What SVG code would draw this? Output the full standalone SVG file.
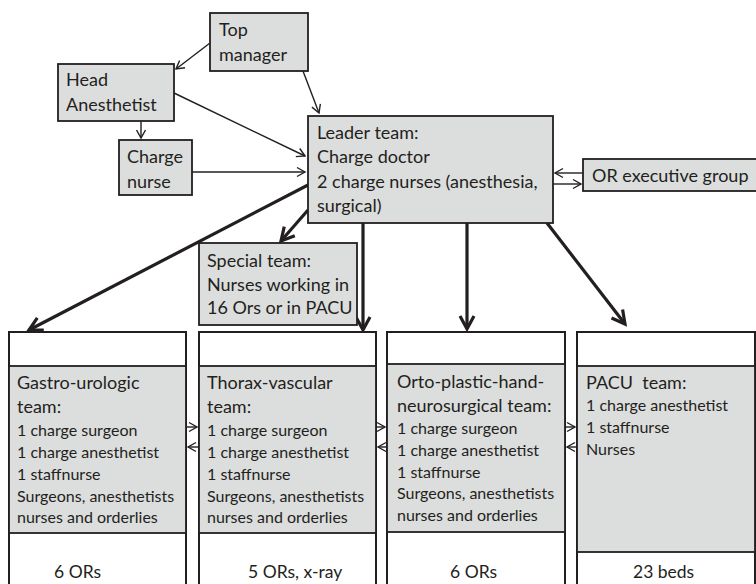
<svg xmlns="http://www.w3.org/2000/svg" width="756" height="584" viewBox="0 0 756 584">
  <style>
    .box { fill: #dcdddd; stroke: #231f20; stroke-width: 1.8; }
    .plain { fill: #ffffff; stroke: #231f20; stroke-width: 2; }
    .t { font-family: Lato, "Liberation Sans", sans-serif; font-size: 18px; fill: #231f20; }
    .s { font-family: Lato, "Liberation Sans", sans-serif; font-size: 16px; fill: #231f20; }
    .b { font-family: Lato, "Liberation Sans", sans-serif; font-size: 17.5px; fill: #231f20; }
    .thin { stroke: #231f20; stroke-width: 1.4; fill: none; marker-end: url(#open); }
    .thick { stroke: #231f20; stroke-width: 3.2; fill: none; marker-end: url(#openBig); }
  </style>
  <defs>
    <marker id="open" markerUnits="userSpaceOnUse" markerWidth="12" markerHeight="12" refX="10" refY="6" orient="auto">
      <path d="M2,1.5 L10,6 L2,10.5" fill="none" stroke="#231f20" stroke-width="1.4"/>
    </marker>
    <marker id="openBig" markerUnits="userSpaceOnUse" markerWidth="20" markerHeight="20" refX="16" refY="10" orient="auto">
      <path d="M3,3 L16,10 L3,17" fill="none" stroke="#231f20" stroke-width="3.2"/>
    </marker>
  </defs>

  <g id="connectors">
    <line class="thin" x1="210" y1="43" x2="176" y2="69"/>
    <line class="thin" x1="303" y1="71" x2="319" y2="113"/>
    <line class="thin" x1="174" y1="93" x2="305" y2="156"/>
    <line class="thin" x1="141" y1="121" x2="141" y2="138"/>
    <line class="thin" x1="192" y1="172" x2="305" y2="172"/>
    <line class="thin" x1="583" y1="173" x2="555" y2="173"/>
    <line class="thin" x1="553" y1="184" x2="581" y2="184"/>
    <line class="thick" x1="308" y1="185" x2="29" y2="330"/>
    <line class="thick" x1="308" y1="210" x2="281" y2="241"/>
    <line class="thick" x1="363" y1="223" x2="363" y2="330"/>
    <line class="thick" x1="467" y1="223" x2="467" y2="329"/>
    <line class="thick" x1="547" y1="223" x2="625" y2="324"/>
    <line class="thin" x1="186" y1="427" x2="197" y2="427"/>
    <line class="thin" x1="199" y1="447" x2="188" y2="447"/>
    <line class="thin" x1="376" y1="427" x2="385" y2="427"/>
    <line class="thin" x1="387" y1="447" x2="378" y2="447"/>
    <line class="thin" x1="565" y1="427" x2="575" y2="427"/>
    <line class="thin" x1="577" y1="447" x2="567" y2="447"/>
  </g>

  <g id="top-manager">
    <rect class="box" x="210" y="13" width="98" height="58"/>
    <text class="t" x="219" y="36">Top</text>
    <text class="t" x="219" y="61">manager</text>
  </g>

  <g id="head-anesthetist">
    <rect class="box" x="58" y="64" width="116" height="57"/>
    <text class="t" x="66" y="86">Head</text>
    <text class="t" x="66" y="111">Anesthetist</text>
  </g>

  <g id="charge-nurse">
    <rect class="box" x="119" y="140" width="73" height="55"/>
    <text class="t" x="127" y="163">Charge</text>
    <text class="t" x="127" y="188">nurse</text>
  </g>

  <g id="leader-team">
    <rect class="box" x="308" y="116" width="245" height="107"/>
    <text class="t" x="317" y="139">Leader team:</text>
    <text class="t" x="317" y="163">Charge doctor</text>
    <text class="t" x="317" y="188">2 charge nurses (anesthesia,</text>
    <text class="t" x="317" y="212">surgical)</text>
  </g>

  <g id="or-executive-group">
    <rect class="box" x="583" y="159" width="175" height="32"/>
    <text class="t" x="592" y="182">OR executive group</text>
  </g>

  <g id="special-team">
    <rect class="box" x="199" y="243" width="158" height="82"/>
    <text class="t" x="207" y="267">Special team:</text>
    <text class="t" x="207" y="291">Nurses working in</text>
    <text class="t" x="207" y="314">16 Ors or in PACU</text>
  </g>

  <g id="gastro-urologic-team">
    <rect class="plain" x="9" y="332" width="177" height="260"/>
    <rect class="box" x="9" y="366" width="177" height="167"/>
    <text class="t" x="17" y="389">Gastro-urologic</text>
    <text class="t" x="17" y="413">team:</text>
    <text class="s" x="17" y="436">1 charge surgeon</text>
    <text class="s" x="17" y="458">1 charge anesthetist</text>
    <text class="s" x="17" y="480">1 staffnurse</text>
    <text class="s" x="17" y="502">Surgeons, anesthetists</text>
    <text class="s" x="17" y="523">nurses and orderlies</text>
    <text class="b" x="54" y="578">6 ORs</text>
  </g>

  <g id="thorax-vascular-team">
    <rect class="plain" x="199" y="332" width="177" height="260"/>
    <rect class="box" x="199" y="366" width="177" height="167"/>
    <text class="t" x="207" y="389">Thorax-vascular</text>
    <text class="t" x="207" y="413">team:</text>
    <text class="s" x="207" y="436">1 charge surgeon</text>
    <text class="s" x="207" y="458">1 charge anesthetist</text>
    <text class="s" x="207" y="480">1 staffnurse</text>
    <text class="s" x="207" y="502">Surgeons, anesthetists</text>
    <text class="s" x="207" y="523">nurses and orderlies</text>
    <text class="b" x="248" y="578">5 ORs, x-ray</text>
  </g>

  <g id="orto-plastic-team">
    <rect class="plain" x="387" y="332" width="178" height="260"/>
    <rect class="box" x="387" y="364" width="178" height="168"/>
    <text class="t" x="397" y="388">Orto-plastic-hand-</text>
    <text class="t" x="397" y="412">neurosurgical team:</text>
    <text class="s" x="397" y="434">1 charge surgeon</text>
    <text class="s" x="397" y="456">1 charge anesthetist</text>
    <text class="s" x="397" y="478">1 staffnurse</text>
    <text class="s" x="397" y="499">Surgeons, anesthetists</text>
    <text class="s" x="397" y="521">nurses and orderlies</text>
    <text class="b" x="450" y="578">6 ORs</text>
  </g>

  <g id="pacu-team">
    <rect class="plain" x="577" y="332" width="178" height="260"/>
    <rect class="box" x="577" y="366" width="178" height="186"/>
    <text class="t" x="586" y="389" xml:space="preserve">PACU  team:</text>
    <text class="s" x="586" y="411">1 charge anesthetist</text>
    <text class="s" x="586" y="433">1 staffnurse</text>
    <text class="s" x="586" y="455">Nurses</text>
    <text class="b" x="633" y="578">23 beds</text>
  </g>
</svg>
